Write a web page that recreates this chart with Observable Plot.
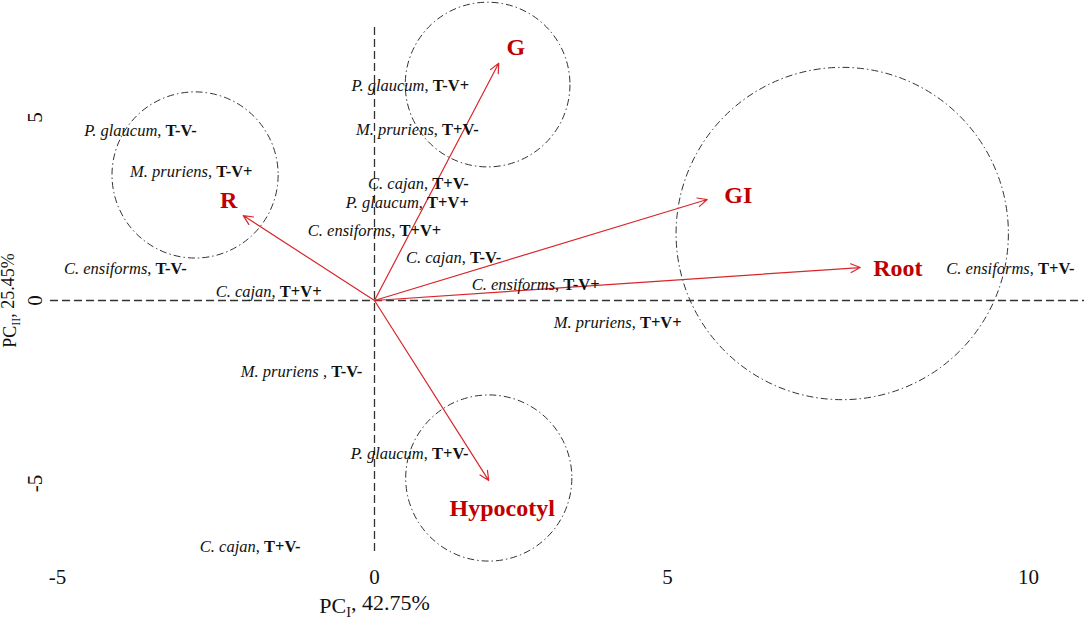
<!DOCTYPE html>
<html><head><meta charset="utf-8">
<script src="https://cdn.jsdelivr.net/npm/d3@7"></script>
<script src="https://cdn.jsdelivr.net/npm/@observablehq/plot@0.6"></script>
<style>html,body{margin:0;padding:0;background:#fff}</style>
</head><body><div id="chart"></div>
<script>
// ---- data ----
const xTicks = [-5, 0, 5, 10];
const yTicks = [-5, 0, 5];
const xTitle = ["PC", "I", ", 42.75%"];
const yTitle = ["PC", "II", ", 25.45%"];

// variable loadings (arrows)
const varNames = ["G", "R", "GI", "Root", "Hypocotyl"];
const varX = [2.12, -2.07, 5.55, 7.67, 1.95];
const varY = [6.48, 2.32, 2.76, 0.90, -4.92];
const varLabelX = [2.41, -2.30, 5.98, 8.19, 2.18];
const varLabelY = [6.91, 2.73, 2.87, 0.87, -5.68];

// observations (species x treatment)
const obsSpecies = ["P. glaucum", "M. pruriens", "C. ensiforms", "C. cajan", "P. glaucum", "M. pruriens",
  "C. cajan", "P. glaucum", "C. ensiforms", "C. cajan", "C. ensiforms", "M. pruriens",
  "C. ensiforms", "M. pruriens ", "P. glaucum", "C. cajan"];
const obsTreat = ["T-V-", "T-V+", "T-V-", "T+V+", "T-V+", "T+V-",
  "T+V-", "T+V+", "T+V+", "T-V-", "T-V+", "T+V+",
  "T+V-", "T-V-", "T+V-", "T+V-"];
const obsX = [-3.69, -2.89, -3.93, -1.67, 0.61, 0.73, 0.75, 0.56, 0.00, 1.35, 2.75, 4.15, 9.75, -1.15, 0.60, -1.96];
const obsY = [4.64, 3.52, 0.87, 0.25, 5.87, 4.67, 3.20, 2.68, 1.91, 1.17, 0.44, -0.60, 0.87, -1.94, -4.18, -6.72];

// cluster circles (radius in PC units)
const circX = [-2.83, 1.93, 1.95, 7.42];
const circY = [3.43, 5.90, -4.85, 1.83];
const circR = [2.27, 2.25, 2.27, 4.54];

// ---- tables ----
const vars = varNames.map((n, i) => ({name: n, x: varX[i], y: varY[i], lx: varLabelX[i], ly: varLabelY[i]}));
const obs = obsSpecies.map((s, i) => ({species: s, treat: obsTreat[i], x: obsX[i], y: obsY[i]}));
const circles = circX.map((x, i) => ({x, y: circY[i], r: circR[i]}));

const serif = "Liberation Serif, Times New Roman, serif";
const darkRed = "#c00000";

const plot = Plot.plot({
  width: 1084,
  height: 620,
  marginLeft: 50,
  marginRight: 0,
  marginTop: 27,
  marginBottom: 68,
  style: {fontFamily: serif, background: "#fff", overflow: "visible"},
  x: {type: "linear", domain: xTicks, range: [57, 374, 667, 1028], axis: null},
  y: {type: "linear", domain: [-5, 5], range: [483, 117], axis: null},
  r: {type: "linear", domain: [0, 5], range: [0, 183]},
  marks: [
    Plot.ruleY([0], {stroke: "#333", strokeWidth: 1.3, strokeDasharray: "8,4"}),
    Plot.ruleX([0], {stroke: "#333", strokeWidth: 1.3, strokeDasharray: "8,4"}),
    Plot.dot(circles, {x: "x", y: "y", r: "r", fill: "none", stroke: "#333", strokeWidth: 1, strokeDasharray: "7,3,1.5,3"}),
    Plot.arrow(vars, {x1: () => 0, y1: () => 0, x2: "x", y2: "y", stroke: "#d9262b", strokeWidth: 1.2, headLength: 13, headAngle: 50}),
    Plot.text(vars, {x: "lx", y: "ly", text: "name", fill: darkRed, fontWeight: "bold", fontSize: 24, fontFamily: serif}),
    Plot.text(obs, {x: "x", y: "y", text: d => d.species + ", " + d.treat, fill: "#111", fontSize: 16.5, fontFamily: serif, ariaDescription: "obs-labels"}),
    Plot.text(xTicks, {x: d => d, text: d => String(d), frameAnchor: "bottom", dy: 25, textAnchor: "middle", lineAnchor: "middle", fontSize: 21, fill: "#111", fontFamily: serif}),
    Plot.text(yTicks, {y: d => d, text: d => String(d), frameAnchor: "left", dx: -15, rotate: -90, textAnchor: "middle", lineAnchor: "middle", fontSize: 21, fill: "#111", fontFamily: serif}),
    Plot.text([xTitle.join("")], {x: () => 0, frameAnchor: "bottom", dy: 53, textAnchor: "middle", lineAnchor: "middle", fontSize: 22, fill: "#111", fontFamily: serif, ariaDescription: "x-title"}),
    Plot.text([yTitle.join("")], {y: () => 0, frameAnchor: "left", dx: -40, rotate: -90, textAnchor: "middle", lineAnchor: "middle", fontSize: 18, fill: "#111", fontFamily: serif, ariaDescription: "y-title"})
  ]
});
document.getElementById("chart").appendChild(plot);

// rich text: italic species, bold treatment
const svg = d3.select(plot);
const textGroups = svg.selectAll('g[aria-label="text"]').nodes();
function groupFor(desc, idx) {
  const g = svg.select(`g[aria-description="${desc}"]`);
  return g.empty() ? d3.select(textGroups[idx]) : g;
}
groupFor("obs-labels", 1).selectAll("text").each(function(_, i) {
  const t = d3.select(this);
  t.text(null);
  t.append("tspan").attr("font-style", "italic").text(obs[i].species);
  t.append("tspan").text(", ");
  t.append("tspan").attr("font-weight", "bold").text(obs[i].treat);
});
function subscript(sel, parts) {
  const t = sel.select("text");
  t.text(null);
  t.append("tspan").text(parts[0]);
  t.append("tspan").attr("font-size", "65%").attr("dy", "0.3em").text(parts[1]);
  t.append("tspan").attr("dy", "-0.3em").text(parts[2]);
}
subscript(groupFor("x-title", 4), xTitle);
subscript(groupFor("y-title", 5), yTitle);
</script>
</body></html>
